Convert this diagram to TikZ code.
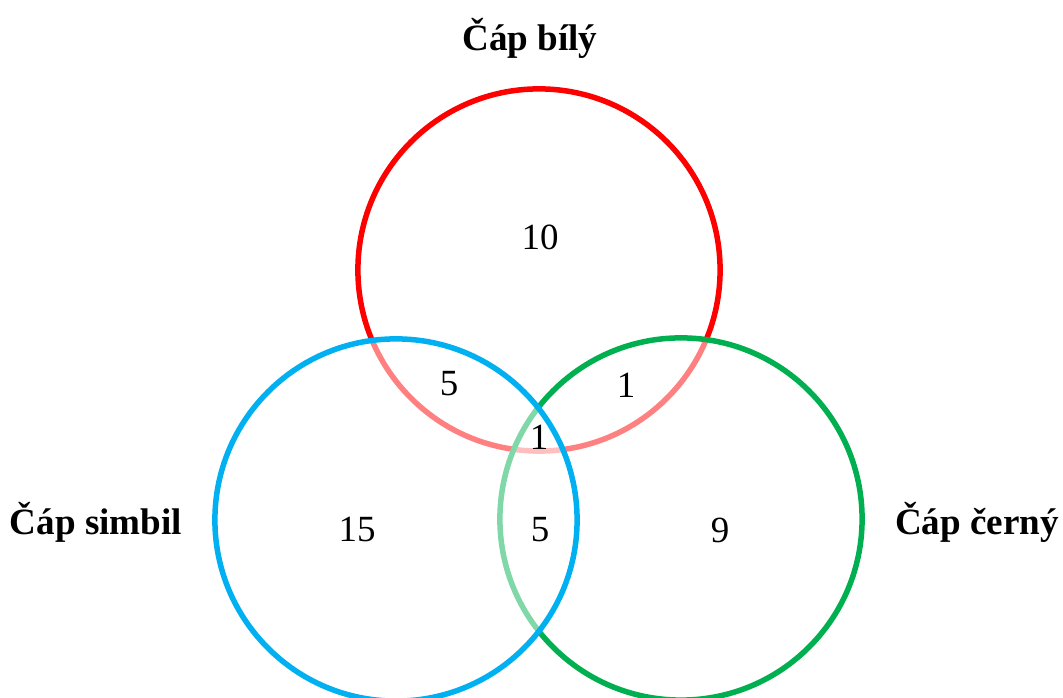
\documentclass[tikz,border=0pt]{standalone}
\usepackage{fontspec}
\setmainfont{Liberation Serif}
\usetikzlibrary{positioning}
\definecolor{bilycol}{RGB}{255, 0, 0}
\definecolor{simbilcol}{RGB}{0, 176, 240}
\definecolor{cernycol}{RGB}{0, 176, 80}

\begin{document}
\begin{tikzpicture}[x=0.01cm, y=-0.01cm,
      mnozina/.style={circle, line width=0.055cm, fill=white, fill opacity=0.5, minimum size=3.62cm, inner sep=0pt},
      nazev/.style={font=\fontsize{10.55}{12}\selectfont\bfseries},
      pocet/.style={font=\fontsize{10.5}{12}\selectfont}]
      \useasboundingbox (0,0) rectangle (1063,698);

      % Kruhy (cerveny, zeleny, modry)
      \node[mnozina, draw=bilycol] (bily) at (539, 270) {};
      \node[mnozina, draw=cernycol] (cerny) at (681, 519) {};
      \node[mnozina, draw=simbilcol] (simbil) at (396, 520) {};

      % Nazvy
      \node[nazev] (tbily) at (530, 38) {Čáp bílý};
      \node[nazev] (tsimbil) at (96, 522) {Čáp simbil};
      \node[nazev] (tcerny) at (977, 522) {Čáp černý};

      % Pocty
      \node[pocet] (n1) at (540, 237) {10};
      \node[pocet] (n2) at (449, 384) {5};
      \node[pocet] (n3) at (626, 385) {1};
      \node[pocet] (n4) at (539, 437) {1};
      \node[pocet] (n5) at (357, 530) {15};
      \node[pocet] (n6) at (540, 530) {5};
      \node[pocet] (n7) at (720, 530) {9};
    \end{tikzpicture}
\end{document}
